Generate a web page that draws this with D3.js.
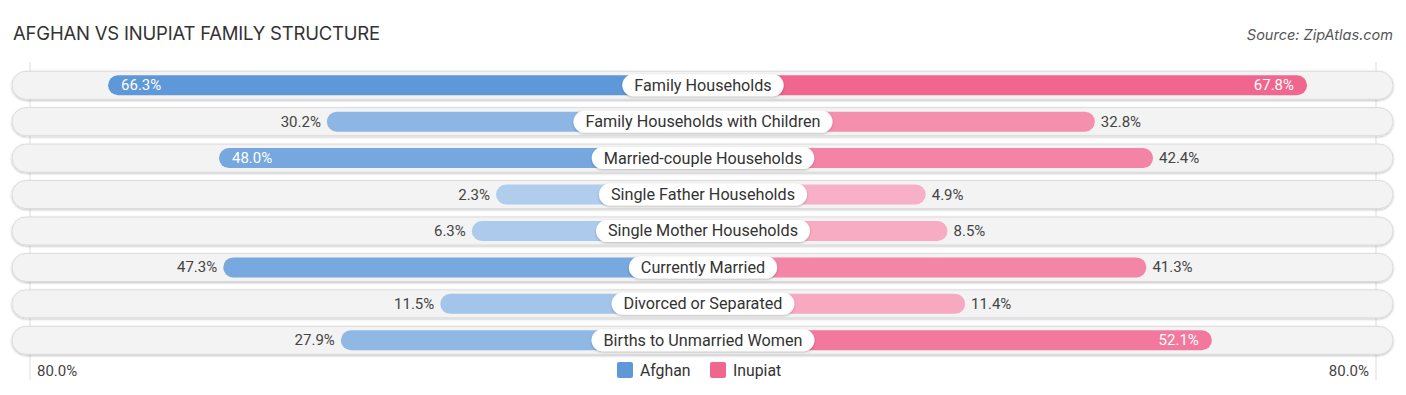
<!DOCTYPE html>
<html><head><meta charset="utf-8">
<script src="https://cdn.jsdelivr.net/npm/d3@7"></script>
<style>body{margin:0;background:#fff;} svg{display:block;}</style>
</head><body>
<script>
const categories = ["Family Households","Family Households with Children","Married-couple Households","Single Father Households","Single Mother Households","Currently Married","Divorced or Separated","Births to Unmarried Women"];
const afghan = [66.3,30.2,48.0,2.3,6.3,47.3,11.5,27.9];
const inupiat = [67.8,32.8,42.4,4.9,8.5,41.3,11.4,52.1];
const seriesNames = ["Afghan","Inupiat"];
const axisMax = 80;
const axisLabel = "80.0%";

const W=1406,H=395,cx=703,off=193,half=678;
const svg=d3.select("body").append("svg").attr("width",W).attr("height",H).style("font-family","Roboto, sans-serif");
const len=d3.scaleLinear().domain([0,axisMax]).range([off,half]);
const y=d3.scaleBand().domain(categories).range([67,358.5]).paddingInner(0);
const blueC=d3.scaleLinear().domain([0,66.3]).range(["#b3cfee","#5f98d9"]).clamp(true);
const pinkC=d3.scaleLinear().domain([0,67.8]).range(["#f8b6cb","#f0668f"]).clamp(true);

svg.append("text").attr("x",13).attr("y",40).text("AFGHAN VS INUPIAT FAMILY STRUCTURE").attr("font-family","Inter, 'Open Sans', sans-serif").attr("font-size",18.5).attr("fill","#333").attr("letter-spacing",-0.2);
svg.append("text").attr("x",1393).attr("y",40).attr("text-anchor","end").text("Source: ZipAtlas.com").attr("font-family","Inter, 'Open Sans', sans-serif").attr("font-style","italic").attr("font-size",14.5).attr("fill","#555");

const defs=svg.append("defs");
const f=defs.append("filter").attr("id","sh").attr("x","-5%").attr("y","-30%").attr("width","110%").attr("height","160%");
f.append("feDropShadow").attr("dx",0).attr("dy",1).attr("stdDeviation",1).attr("flood-color","#000").attr("flood-opacity",0.25);

// gridlines
[30, 1376].forEach(x=>svg.append("line").attr("x1",x).attr("x2",x).attr("y1",62).attr("y2",380).attr("stroke","#ddd").attr("stroke-width",1));

categories.forEach((c,i)=>{
  const yc=y(c)+y.bandwidth()/2;
  const g=svg.append("g");
  g.append("rect").attr("x",12).attr("y",yc-14).attr("width",1381).attr("height",28).attr("rx",14).attr("fill","#f3f3f3").attr("stroke","#dcdcdc").attr("stroke-width",1).attr("filter","url(#sh)");
  const a=afghan[i], p=inupiat[i];
  const la=len(a), lp=len(p);
  g.append("rect").attr("x",cx-la).attr("y",yc-10).attr("width",la).attr("height",20).attr("rx",10).attr("fill",blueC(a));
  g.append("rect").attr("x",cx).attr("y",yc-10).attr("width",lp).attr("height",20).attr("rx",10).attr("fill",pinkC(p));
  const inA=a>=48, inP=p>=48;
  g.append("text").attr("x",inA?cx-la+13:cx-la-6).attr("y",yc+5).attr("text-anchor",inA?"start":"end").attr("font-size",15).attr("fill",inA?"#fff":"#444").text(a.toFixed(1)+"%");
  g.append("text").attr("x",inP?cx+lp-13:cx+lp+6).attr("y",yc+5).attr("text-anchor",inP?"end":"start").attr("font-size",15).attr("fill",inP?"#fff":"#444").text(p.toFixed(1)+"%");
  const t=g.append("text").attr("x",cx).attr("y",yc+5.5).attr("text-anchor","middle").attr("font-size",16.2).attr("fill","#333").text(c);
  const tw=t.node().getComputedTextLength();
  g.insert("rect","text:last-of-type").attr("x",cx-tw/2-12).attr("y",yc-11).attr("width",tw+24).attr("height",22).attr("rx",11).attr("fill","#fff").attr("filter","url(#sh)");
  t.raise();
});

svg.append("text").attr("x",37).attr("y",376).attr("font-size",15).attr("fill","#444").text(axisLabel);
svg.append("text").attr("x",1369).attr("y",376).attr("text-anchor","end").attr("font-size",15).attr("fill","#444").text(axisLabel);

const leg=[{n:seriesNames[0],c:"#5f98d9",x:617},{n:seriesNames[1],c:"#f0668f",x:710}];
leg.forEach(l=>{
  svg.append("rect").attr("x",l.x).attr("y",362).attr("width",16).attr("height",16).attr("rx",2).attr("fill",l.c);
  svg.append("text").attr("x",l.x+23).attr("y",376).attr("font-size",15.8).attr("fill","#333").text(l.n);
});
</script>
</body></html>
